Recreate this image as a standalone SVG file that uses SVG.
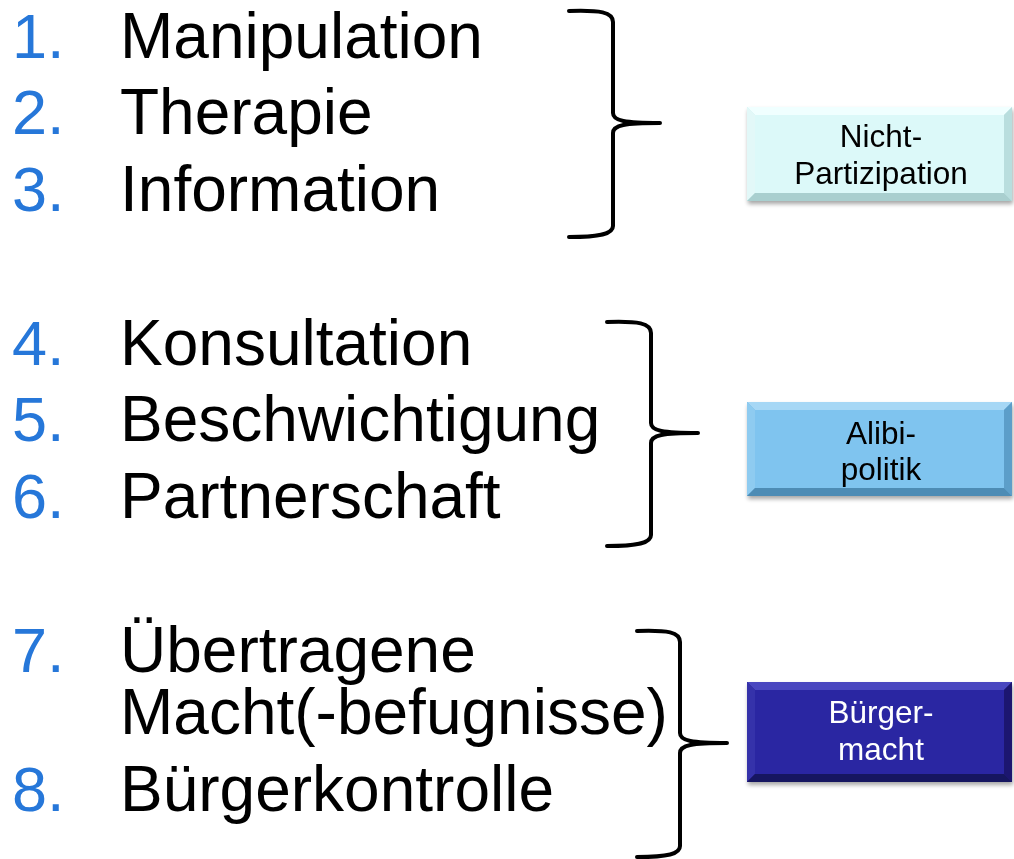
<svg xmlns="http://www.w3.org/2000/svg" width="1014" height="859" viewBox="0 0 1014 859">
  <style>
    .num { font-family: "Liberation Sans", Arial, sans-serif; font-size: 63px; fill: #2677d9; }
    .item { font-family: "Liberation Sans", Arial, sans-serif; font-size: 64px; fill: #000; }
    .lbl { font-family: "Liberation Sans", Arial, sans-serif; font-size: 31.5px; text-anchor: middle; }
    .brace { fill: none; stroke: #000; stroke-width: 4; stroke-linecap: round; stroke-linejoin: round; }
  </style>
  <defs>
    <filter id="shadow" x="-5%" y="-10%" width="115%" height="130%">
      <feGaussianBlur in="SourceAlpha" stdDeviation="2"/>
      <feOffset dx="1" dy="3"/>
      <feComponentTransfer><feFuncA type="linear" slope="0.35"/></feComponentTransfer>
      <feMerge><feMergeNode/><feMergeNode in="SourceGraphic"/></feMerge>
    </filter>
  </defs>
  <rect width="1014" height="859" fill="#fff"/>

  <!-- ladder levels -->
  <g id="levels">
    <text class="num" x="12" y="58">1.</text><text class="item" x="120" y="58">Manipulation</text>
    <text class="num" x="12" y="134">2.</text><text class="item" x="120" y="134">Therapie</text>
    <text class="num" x="12" y="211">3.</text><text class="item" x="120" y="211">Information</text>
    <text class="num" x="12" y="365">4.</text><text class="item" x="120" y="365">Konsultation</text>
    <text class="num" x="12" y="441">5.</text><text class="item" x="120" y="441">Beschwichtigung</text>
    <text class="num" x="12" y="518">6.</text><text class="item" x="120" y="518">Partnerschaft</text>
    <text class="num" x="12" y="672">7.</text>
    <text class="item"><tspan x="120" y="672">Übertragene</tspan><tspan x="120" y="734">Macht(-befugnisse)</tspan></text>
    <text class="num" x="12" y="811">8.</text><text class="item" x="120" y="811">Bürgerkontrolle</text>
  </g>

  <!-- braces -->
  <g id="connectors">
    <path class="brace" d="M569,11 C600,10 613,12 613,22 L613,113 C613,121 625,123 660,123 C625,123 613,125 613,133 L613,226 C613,234 600,237 569,237"/>
    <path class="brace" d="M607,322 C638,321 651,323 651,333 L651,423 C651,431 663,433 698,433 C663,433 651,435 651,443 L651,535 C651,543 638,546 607,546"/>
    <path class="brace" d="M637,631 C668,630 680,632 680,642 L680,733 C680,741 692,743 727,743 C692,743 680,745 680,753 L680,846 C680,854 668,857 637,857"/>
  </g>

  <!-- category boxes -->
  <g id="box-nicht-partizipation" filter="url(#shadow)">
    <rect x="747" y="107" width="265" height="94" fill="#c9eeee"/>
    <polygon points="747,107 1012,107 1004,115 755,115" fill="#f0ffff"/>
    <polygon points="747,107 755,115 755,193 747,201" fill="#e2f8f8"/>
    <polygon points="1012,107 1004,115 1004,193 1012,201" fill="#b9dede"/>
    <polygon points="747,201 755,193 1004,193 1012,201" fill="#a9cfcf"/>
    <rect x="755" y="115" width="249" height="78" fill="#dcf9f9"/>
    <text class="lbl" x="881" y="147" fill="#000">Nicht-</text>
    <text class="lbl" x="881" y="184" fill="#000">Partizipation</text>
  </g>

  <g id="box-alibipolitik" filter="url(#shadow)">
    <rect x="747" y="402" width="265" height="94" fill="#6fb3de"/>
    <polygon points="747,402 1012,402 1004,410 755,410" fill="#a6d7f5"/>
    <polygon points="747,402 755,410 755,488 747,496" fill="#8ecbf0"/>
    <polygon points="1012,402 1004,410 1004,488 1012,496" fill="#5c9ec9"/>
    <polygon points="747,496 755,488 1004,488 1012,496" fill="#4e8cb5"/>
    <rect x="755" y="410" width="249" height="78" fill="#7fc4ef"/>
    <text class="lbl" x="881" y="444" fill="#000">Alibi-</text>
    <text class="lbl" x="881" y="480" fill="#000">politik</text>
  </g>

  <g id="box-buergermacht" filter="url(#shadow)">
    <rect x="747" y="682" width="265" height="100" fill="#24208c"/>
    <polygon points="747,682 1012,682 1004,690 755,690" fill="#4a47c0"/>
    <polygon points="747,682 755,690 755,774 747,782" fill="#3531aa"/>
    <polygon points="1012,682 1004,690 1004,774 1012,782" fill="#1c1870"/>
    <polygon points="747,782 755,774 1004,774 1012,782" fill="#151260"/>
    <rect x="755" y="690" width="249" height="84" fill="#2b27a2"/>
    <text class="lbl" x="881" y="723" fill="#fff">Bürger-</text>
    <text class="lbl" x="881" y="760" fill="#fff">macht</text>
  </g>
</svg>
